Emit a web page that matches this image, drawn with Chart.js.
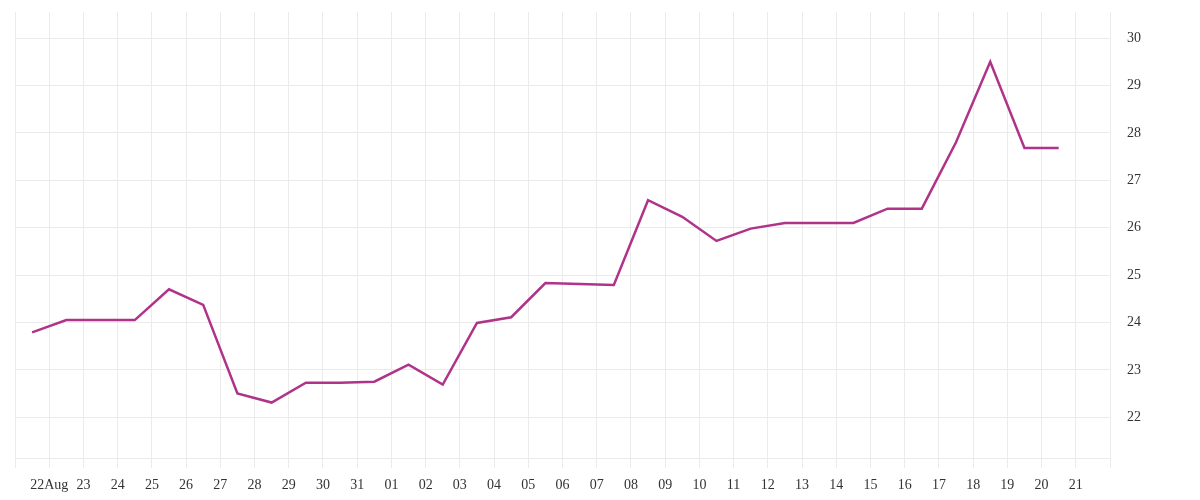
<!DOCTYPE html>
<html>
<head>
<meta charset="utf-8">
<script src="https://cdn.jsdelivr.net/npm/chart.js@4"></script>
<style>
  html, body { margin: 0; padding: 0; background: #fff; }
  #wrap { width: 1200px; height: 500px; }
</style>
</head>
<body>
<div id="wrap"><canvas id="myChart"></canvas></div>
<script>
// day labels for the x grid (day 0 = 21 Aug, unlabelled edges)
var dayLabels = ['', '22Aug', '23', '24', '25', '26', '27', '28', '29', '30', '31',
    '01', '02', '03', '04', '05', '06', '07', '08', '09', '10',
    '11', '12', '13', '14', '15', '16', '17', '18', '19', '20', '21', ''];

// one reading per day, taken at midday
var dayPos = [];
for (var i = 0; i < 31; i++) dayPos.push(i + 0.5);

var values = [23.79, 24.05, 24.05, 24.05, 24.70, 24.37, 22.50, 22.31, 22.73, 22.73,
    22.75, 23.11, 22.69, 23.99, 24.11, 24.83, 24.81, 24.79, 26.58, 26.23,
    25.72, 25.98, 26.10, 26.10, 26.10, 26.40, 26.40, 27.80, 29.50, 27.68, 27.68];

var yTicks = [22, 23, 24, 25, 26, 27, 28, 29, 30];

var points = dayPos.map(function (x, i) { return { x: x, y: values[i] }; });

var gridColor = '#ebebeb';
var textFont = { family: 'Liberation Serif', size: 14 };

var ctx = document.getElementById('myChart').getContext('2d');
var myChart = new Chart(ctx, {
    type: 'line',
    data: {
        datasets: [{
            data: points,
            borderColor: '#b0338a',
            borderWidth: 2.5,
            pointRadius: 0,
            tension: 0,
            fill: false
        }]
    },
    options: {
        responsive: true,
        maintainAspectRatio: false,
        animation: false,
        layout: { padding: { left: 15, top: 12, right: 0, bottom: 0 } },
        plugins: {
            legend: { display: false },
            tooltip: { enabled: false }
        },
        scales: {
            x: {
                type: 'linear',
                min: 0,
                max: 32,
                afterFit: function (axis) {
                    axis.height = 42;
                    axis.paddingLeft = 0;
                    axis.paddingRight = 0;
                },
                grid: { color: gridColor, tickLength: 10 },
                border: { color: gridColor },
                ticks: {
                    stepSize: 1,
                    autoSkip: false,
                    maxRotation: 0,
                    padding: 9,
                    color: '#333',
                    font: textFont,
                    callback: function (v) { return dayLabels[v]; }
                }
            },
            y: {
                position: 'right',
                min: 21.14,
                max: 30.55,
                afterFit: function (axis) {
                    axis.width = 90;
                    axis.paddingTop = 0;
                    axis.paddingBottom = 0;
                },
                afterBuildTicks: function (axis) {
                    axis.ticks = yTicks.map(function (v) { return { value: v }; });
                },
                grid: { color: gridColor, drawTicks: false },
                border: { display: false },
                ticks: {
                    padding: 17,
                    color: '#333',
                    font: textFont
                }
            }
        }
    }
});
</script>
</body>
</html>
